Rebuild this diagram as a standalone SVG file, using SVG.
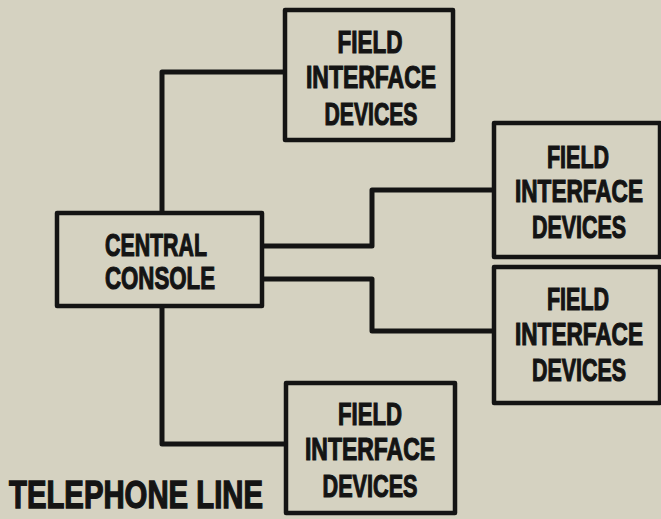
<svg xmlns="http://www.w3.org/2000/svg" width="661" height="519" viewBox="0 0 661 519">
  <style>
    .box { fill: none; stroke: #141414; stroke-width: 4.5; stroke-linejoin: round; }
    .wire { fill: none; stroke: #141414; stroke-width: 5; stroke-linejoin: round; }
    .lbl { font-family: "Liberation Sans", Arial, sans-serif; font-weight: bold; font-size: 32px; fill: #141414; stroke: #141414; stroke-width: 1.2; text-anchor: middle; }
    .lbl-left { text-anchor: start; }
    .cap { font-family: "Liberation Sans", Arial, sans-serif; font-weight: bold; font-size: 39px; fill: #141414; stroke: #141414; stroke-width: 1.4; }
  </style>
  <rect width="661" height="519" fill="#d5d2c1"/>

  <!-- connectors from the central console -->
  <g id="connectors">
    <path class="wire" d="M162,213 V72 H285"/>
    <path class="wire" d="M262,246 H372 V190 H494"/>
    <path class="wire" d="M262,279 H372 V331 H494"/>
    <path class="wire" d="M162,306 V444 H286"/>
  </g>

  <g id="central-console">
    <rect class="box" x="57" y="213" width="205" height="93"/>
    <text class="lbl lbl-left" x="105" y="256" textLength="102" lengthAdjust="spacingAndGlyphs">CENTRAL</text>
    <text class="lbl lbl-left" x="105" y="289" textLength="110" lengthAdjust="spacingAndGlyphs">CONSOLE</text>
  </g>

  <g id="fid-top">
    <rect class="box" x="285" y="10" width="168" height="130"/>
    <text class="lbl" x="370" y="53" textLength="65" lengthAdjust="spacingAndGlyphs">FIELD</text>
    <text class="lbl" x="371" y="88" textLength="130" lengthAdjust="spacingAndGlyphs">INTERFACE</text>
    <text class="lbl" x="371" y="125" textLength="93" lengthAdjust="spacingAndGlyphs">DEVICES</text>
  </g>

  <g id="fid-right-1">
    <rect class="box" x="494" y="123" width="166" height="134"/>
    <text class="lbl" x="578" y="168" textLength="62" lengthAdjust="spacingAndGlyphs">FIELD</text>
    <text class="lbl" x="579" y="202" textLength="128" lengthAdjust="spacingAndGlyphs">INTERFACE</text>
    <text class="lbl" x="579" y="238" textLength="94" lengthAdjust="spacingAndGlyphs">DEVICES</text>
  </g>

  <g id="fid-right-2">
    <rect class="box" x="494" y="267" width="166" height="136"/>
    <text class="lbl" x="578" y="310" textLength="62" lengthAdjust="spacingAndGlyphs">FIELD</text>
    <text class="lbl" x="579" y="345" textLength="128" lengthAdjust="spacingAndGlyphs">INTERFACE</text>
    <text class="lbl" x="579" y="381" textLength="94" lengthAdjust="spacingAndGlyphs">DEVICES</text>
  </g>

  <g id="fid-bottom">
    <rect class="box" x="286" y="383" width="169" height="130"/>
    <text class="lbl" x="370" y="425" textLength="64" lengthAdjust="spacingAndGlyphs">FIELD</text>
    <text class="lbl" x="370" y="460" textLength="130" lengthAdjust="spacingAndGlyphs">INTERFACE</text>
    <text class="lbl" x="370" y="497" textLength="95" lengthAdjust="spacingAndGlyphs">DEVICES</text>
  </g>

  <g id="caption">
    <text class="cap" x="9" y="508" textLength="254" lengthAdjust="spacingAndGlyphs">TELEPHONE LINE</text>
  </g>
</svg>
